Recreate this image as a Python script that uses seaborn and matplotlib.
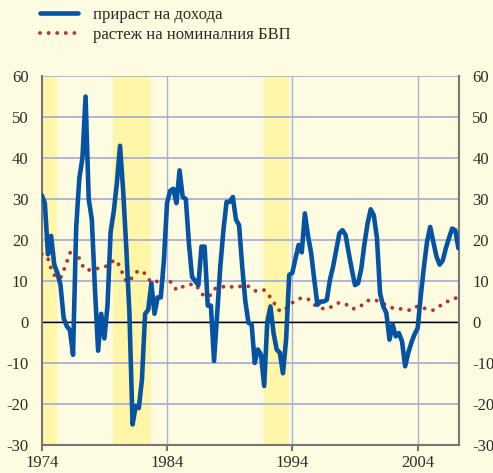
import numpy as np
import pandas as pd
import matplotlib
matplotlib.use("Agg")
import matplotlib.pyplot as plt
import seaborn as sns

# quarterly data, 1974Q1 - 2007Q2
quarters = pd.period_range("1974Q1", "2007Q2", freq="Q")

income_growth = [
    31, 29, 16.5, 21, 14, 12, 9, 1, -1, -2,
    -8, 23, 35, 40, 55, 30, 25, 8, -7, 2,
    -4, 4, 22, 27, 34, 43, 32, 18, 2, -25,
    -20.5, -21, -14, 2, 3, 9.5, 2, 6, 6, 15,
    29, 32, 32.5, 29, 37, 30.5, 30, 19, 11, 10,
    9, 18.4, 18.4, 4, 4, -9.5, 2, 13.5, 22.4, 29.3,
    29.3, 30.5, 25, 23.6, 13.5, 5, -0.2, -0.6, -10, -6.7,
    -8, -15.6, 0, 3.8, -2.7, -6.7, -7.5, -12.5, -4.3, 11.5,
    12, 15.5, 18.8, 17, 26.5, 21, 16.8, 10.3, 4.2, 5,
    5, 5.4, 10.3, 13.5, 17.6, 21.6, 22.4, 21.2, 16.8, 12.7,
    9, 9.5, 13, 19, 24, 27.5, 26, 20.5, 7, 3.8,
    2.2, -4.3, -0.6, -3.5, -2.7, -4.7, -10.8, -7.5, -5, -3,
    -1.5, 6.5, 13.5, 19.6, 23.2, 19.5, 16, 14, 15, 18,
    20.5, 22.8, 22.4, 18,
]

gdp_growth = [
    16.5, 16.3, 15.5, 13, 11.5, 10.7, 10.7, 12.6, 14.6, 16.8,
    18, 17.3, 15.5, 13.8, 12.7, 12.7, 12.7, 12.9, 13.1, 13.3,
    13.5, 13.7, 14.4, 15, 15, 13.2, 11.6, 9.8, 10, 11,
    12, 12.6, 12.3, 11.8, 10.5, 9.8, 9.6, 10, 11, 10.8,
    10.4, 9.9, 9, 7.8, 8.2, 8.6, 8.8, 8.9, 9.3, 9.2,
    8.2, 7, 6.2, 6.3, 6.6, 8, 8.4, 8.4, 8.6, 8.9,
    8.7, 8.5, 8.4, 8.6, 8.9, 8.8, 8.7, 8.2, 7.6, 7.6,
    7.8, 7.8, 7, 6, 5, 3.2, 2.8, 2.6, 3.3, 4,
    4.7, 5.2, 5.6, 5.9, 5.7, 5.6, 5, 4.2, 3.9, 3.5,
    3.2, 3.3, 3.5, 4, 4.5, 4.7, 4.6, 4.4, 3.8, 3.2,
    3.3, 3.5, 4, 4.8, 5.2, 5.4, 5.5, 5.2, 4.9, 4.5,
    4.1, 3.8, 3.4, 3.2, 3.2, 3.2, 3.1, 2.9, 2.9, 3.4,
    3.9, 3.7, 3.4, 3.1, 2.9, 2.9, 3.4, 3.9, 4.3, 4.8,
    5.2, 5.5, 5.8, 6,
]

label_income = "прираст на дохода"
label_gdp = "растеж на номиналния БВП"

# shaded periods
band_start = [1974.0, 1979.65, 1991.7]
band_end = [1975.2, 1982.7, 1993.7]

y_ticks = list(range(-30, 61, 10))
x_ticks = [1974, 1984, 1994, 2004]

df = pd.DataFrame({
    "year": quarters.year + (quarters.quarter - 1) / 4,
    "income": income_growth,
    "gdp": gdp_growth,
})

bg = "#fefce0"
band_col = "#fff6a8"
grid_col = "#a9b1d6"
blue = "#0653a3"
red = "#b3332e"
text_col = "#2b2b2b"
spine_col = "#767676"

sns.set_style("white")
plt.rcParams["font.family"] = ["Liberation Serif", "DejaVu Serif"]
plt.rcParams["axes.unicode_minus"] = False

fig = plt.figure(figsize=(4.93, 4.73), dpi=100, facecolor=bg)
ax = fig.add_axes([0.0846, 0.0592, 0.8465, 0.780])
ax.set_facecolor(bg)

for s, e in zip(band_start, band_end):
    ax.axvspan(s, e, color=band_col, lw=0, zorder=0)

for y in y_ticks:
    ax.axhline(y, color=grid_col, lw=1.3, zorder=1)
for x in x_ticks[1:]:
    ax.axvline(x, color=grid_col, lw=1.0, zorder=1)
ax.axhline(0, color="black", lw=1.0, zorder=2)

sns.lineplot(data=df, x="year", y="gdp", color=red, lw=2.8,
             linestyle=(0, (0.01, 2.2)), dash_capstyle="round",
             ax=ax, zorder=3, label=label_gdp, legend=False)
sns.lineplot(data=df, x="year", y="income", color=blue, lw=3.3,
             ax=ax, zorder=4, label=label_income, legend=False)

ax.set_xlim(1974, 2007.3)
ax.set_ylim(-30, 60)
ax.set_xticks(x_ticks)
ax.set_yticks(y_ticks)
ax.set_xlabel("")
ax.set_ylabel("")

for side in ["left", "right", "bottom"]:
    ax.spines[side].set_visible(True)
    ax.spines[side].set_color(spine_col)
    ax.spines[side].set_linewidth(1.5)
ax.spines["top"].set_visible(False)

ax.tick_params(axis="y", left=False, right=False, labelleft=True,
               labelright=True, labelsize=12, labelcolor=text_col, pad=6)
ax.tick_params(axis="x", bottom=True, direction="out", length=4, width=1.5,
               color=spine_col, labelsize=12, labelcolor=text_col, pad=3)

# legend above the plot
h_gdp, h_inc = ax.lines[-2], ax.lines[-1]
fig.legend([h_inc, h_gdp], [label_income, label_gdp], loc="upper left",
           bbox_to_anchor=(0.081, 0.985), frameon=False, fontsize=12,
           handlelength=2.3, handletextpad=0.9, labelspacing=0.25,
           borderpad=0, borderaxespad=0, labelcolor=text_col)

fig.savefig("out.png", dpi=100, facecolor=bg)
